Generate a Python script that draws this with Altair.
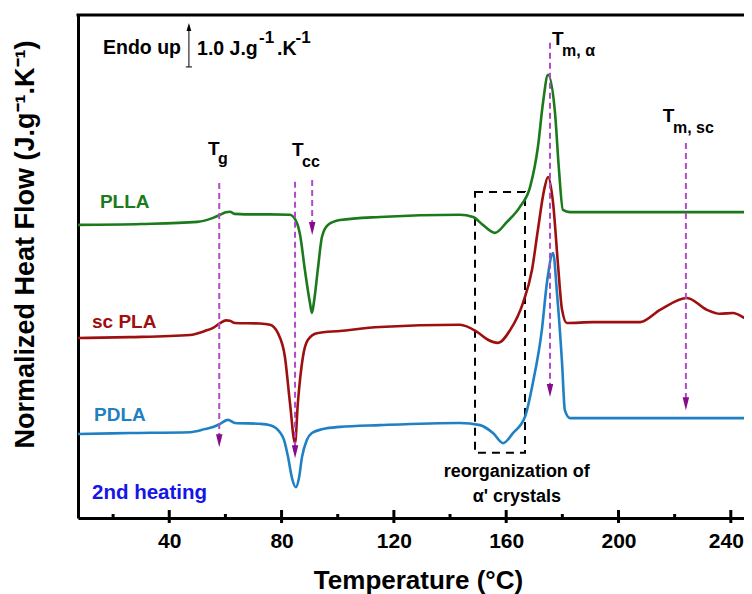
import altair as alt
import pandas as pd

FONT = "Liberation Sans"
W, H = 666, 503
X_DOMAIN = [7.5, 244.7]
Y_DOMAIN = [0, 11.43]

major_ticks = [40, 80, 120, 160, 200, 240]
minor_ticks = [20, 60, 100, 140, 180, 220]

series_names = ["PLLA", "sc PLA", "PDLA"]
series_colors = ["#1b7a1b", "#9e0f0f", "#1f80c4"]

plla_T = [7.5, 30, 50, 55.6, 58.1, 60.2, 61.6, 63.4, 67, 75.9, 83.0, 85.5, 86.6, 88.3, 90.1, 90.8, 91.5, 92.9, 94.4, 96.5,
          100.8, 115, 143.5, 148.2, 151.7, 156.0, 160.3, 164.9, 168.5, 171.3, 173.1, 174.9, 177.4, 178.8, 180.2, 182.7, 247.5]
plla_HF = [6.66, 6.68, 6.73, 6.82, 6.89, 6.95, 6.96, 6.91, 6.90, 6.90, 6.89, 6.70, 6.43, 5.64, 4.89, 4.66, 4.89, 5.64, 6.39, 6.66,
           6.77, 6.84, 6.89, 6.84, 6.66, 6.48, 6.73, 7.07, 7.52, 8.43, 9.43, 10.07, 9.20, 7.91, 7.00, 6.95, 6.95]

scpla_T = [7.5, 26, 47.4, 52.7, 55.6, 58.1, 60.2, 61.6, 63.4, 72.3, 75.9, 78.7, 81.2, 83.0, 84.8, 85.8, 87.6, 89.4, 92.6, 100.8,
           115, 143.5, 149.6, 153.5, 157.1, 161.4, 166.0, 169.2, 171.3, 173.5, 174.9, 176.7, 178.4, 179.9, 181.6, 190.9, 207.6,
           214.8, 224.4, 231.5, 236.1, 240.8, 245.7, 247.5]
scpla_HF = [4.09, 4.11, 4.16, 4.25, 4.32, 4.43, 4.49, 4.48, 4.43, 4.42, 4.39, 4.20, 3.66, 2.61, 1.70, 2.61, 3.66, 4.05, 4.20, 4.25,
            4.34, 4.39, 4.23, 4.05, 3.98, 4.27, 4.89, 5.64, 6.55, 7.45, 7.75, 7.16, 5.80, 4.73, 4.43, 4.45, 4.45,
            4.73, 5.00, 4.73, 4.64, 4.66, 4.52, 4.48]

pdla_T = [7.5, 26, 47.4, 52.7, 55.6, 58.1, 60.9, 63.4, 72.3, 75.9, 79.4, 80.9, 82.3, 83.7, 85.1, 86.2, 87.3, 89.0, 90.8, 94.7,
          100.8, 115, 143.5, 150.7, 155.3, 158.9, 162.4, 166.7, 169.5, 172.7, 174.5, 176.7, 178.1, 179.9, 180.9, 182.7, 247.5]
pdla_HF = [1.91, 1.93, 1.95, 2.02, 2.07, 2.14, 2.23, 2.16, 2.14, 2.11, 1.95, 1.77, 1.39, 0.91, 0.70, 0.91, 1.39, 1.77, 1.93, 2.02,
           2.07, 2.11, 2.16, 2.11, 1.93, 1.70, 1.93, 2.30, 3.07, 4.27, 5.34, 6.02, 5.11, 3.52, 2.45, 2.27, 2.27]

# transition markers (dashed arrows): temperature, top of line, arrow tip
marker_T = [57.8, 84.8, 90.9, 175.6, 224.0]
marker_top = [7.61, 7.64, 7.68, 10.80, 8.52]
marker_tip = [1.61, 1.36, 6.43, 2.75, 2.45]

# reorganization box
box_T = [148.9, 166.7]
box_HF = [1.48, 7.41]

# text labels
label_text = ["PLLA", "sc PLA", "PDLA"]
label_T = [15.3, 12.5, 13.2]
label_HF = [7.18, 4.45, 2.34]
label_color = ["#1b7a1b", "#9e0f0f", "#1f80c4"]

heating_text = ["2nd heating"]
heating_T = [12.5]
heating_HF = [0.57]

sym_T = [53.8, 83.7, 176.3, 215.8]
sym_HF = [8.25, 8.23, 10.75, 9.0]
sub_text = ["g", "cc", "m, α", "m, sc"]
sub_T = [57.4, 87.3, 179.9, 219.4]
sub_HF = [8.05, 7.98, 10.50, 8.75]

reorg_text = ["reorganization of", "α' crystals"]
reorg_T = [163.8, 163.8]
reorg_HF = [1.05, 0.48]

# Endo-up scale bar (1.0 J/g/K)
endo_text = ["Endo up", "1.0 J.g", ".K"]
endo_T = [16.4, 49.9, 78.4]
endo_HF = [10.55, 10.52, 10.52]
sup_T = [72.0, 85.0]
sup_HF = [10.80, 10.80]
scale_T = 47.0
scale_HF = [10.25, 11.25]


# ---------------------------------------------------------------
def X(field="T"):
    return alt.X(f"{field}:Q",
                 scale=alt.Scale(domain=X_DOMAIN, nice=False, zero=False),
                 axis=alt.Axis(values=major_ticks, format="d", title="Temperature (°C)",
                               labelFont=FONT, labelFontSize=21, labelFontWeight="bold", labelColor="black",
                               labelOffset={"condition": {"test": "datum.value >= 240", "value": -5}, "value": 0},
                               ticks=False, tickSize=0, labelPadding=12, grid=False,
                               domainColor="black", domainWidth=3,
                               titleFont=FONT, titleFontSize=26, titleFontWeight="bold", titleColor="black",
                               titleBaseline="alphabetic", titleY=70, titleX=340))


def Y(field="HF"):
    return alt.Y(f"{field}:Q",
                 scale=alt.Scale(domain=Y_DOMAIN, nice=False, zero=False),
                 axis=alt.Axis(labels=False, ticks=False, tickSize=0, grid=False,
                               domainColor="black", domainWidth=3,
                               title="Normalized Heat Flow (J.g⁻¹.K⁻¹)",
                               titleFont=FONT, titleFontSize=27, titleFontWeight="bold", titleColor="black",
                               titleAngle=270, titleAlign="center", titleBaseline="middle",
                               titleX=-53, titleY=229))


rows = []
for name, ts, hs in zip(series_names, [plla_T, scpla_T, pdla_T], [plla_HF, scpla_HF, pdla_HF]):
    for t, h in zip(ts, hs):
        rows.append({"series": name, "T": t, "HF": h})
curves_df = pd.DataFrame(rows)

curves = alt.Chart(curves_df).mark_line(strokeWidth=2.6, interpolate="monotone", clip=True).encode(
    x=X(), y=Y(),
    color=alt.Color("series:N", scale=alt.Scale(domain=series_names, range=series_colors), legend=None),
    detail="series:N",
)

markers_df = pd.DataFrame({"T": marker_T, "top": marker_top, "tip": marker_tip})
markers_df["end"] = markers_df["tip"] + 0.1

dash_lines = alt.Chart(markers_df).mark_rule(color="#b24ac8", strokeWidth=2, strokeDash=[6, 4]).encode(
    x=X(), y=Y("top"), y2=alt.Y2("end"))
arrow_heads = alt.Chart(markers_df).mark_point(
    shape="M-0.5,-2L0.5,-2L0,0Z", filled=True, size=169, color="#860a8c", opacity=1, strokeWidth=0
).encode(x=X(), y=Y("tip"))

box_df = pd.DataFrame({"T": [box_T[0]], "T2": [box_T[1]], "HF": [box_HF[0]], "HF2": [box_HF[1]]})
box = alt.Chart(box_df).mark_rect(fill=None, fillOpacity=0, stroke="black", strokeWidth=2, strokeDash=[8, 6]).encode(
    x=X(), x2=alt.X2("T2"), y=Y(), y2=alt.Y2("HF2"))

# axis tick marks drawn across the axis line
major_df = pd.DataFrame({"T": major_ticks})
minor_df = pd.DataFrame({"T": minor_ticks})
major_rules = alt.Chart(major_df).mark_rule(color="black", strokeWidth=3).encode(
    x=X(), y=alt.value(H - 8), y2=alt.value(H + 5))
minor_rules = alt.Chart(minor_df).mark_rule(color="black", strokeWidth=3).encode(
    x=X(), y=alt.value(H - 4), y2=alt.value(H))

top_border = alt.Chart(pd.DataFrame({"a": [0]})).mark_rule(color="black", strokeWidth=3).encode(
    x=alt.value(-1.5), x2=alt.value(W), y=alt.value(0))


def text_layer(df, size, align="left", baseline="alphabetic", color="black", color_field=None):
    mark = alt.Chart(df).mark_text(font=FONT, fontSize=size, fontWeight="bold", align=align, baseline=baseline,
                                   color=color)
    enc = dict(x=X(), y=Y(), text="text:N")
    if color_field:
        enc["color"] = alt.Color(f"{color_field}:N", scale=None, legend=None)
    return mark.encode(**enc)


labels = text_layer(pd.DataFrame({"T": label_T, "HF": label_HF, "text": label_text, "c": label_color}),
                    19, baseline="middle", color_field="c")
heating = text_layer(pd.DataFrame({"T": heating_T, "HF": heating_HF, "text": heating_text}),
                     20.5, baseline="middle", color="#1515e8")
syms = text_layer(pd.DataFrame({"T": sym_T, "HF": sym_HF, "text": ["T"] * 4}), 19)
subs = text_layer(pd.DataFrame({"T": sub_T, "HF": sub_HF, "text": sub_text}), 16)
reorg = text_layer(pd.DataFrame({"T": reorg_T, "HF": reorg_HF, "text": reorg_text}), 18, align="center",
                   baseline="middle")

endo_main = text_layer(pd.DataFrame({"T": endo_T, "HF": endo_HF, "text": endo_text}), 19.5)
endo_sup = text_layer(pd.DataFrame({"T": sup_T, "HF": sup_HF, "text": ["-1", "-1"]}), 17)

scale_df = pd.DataFrame({"T": [scale_T], "HF": [scale_HF[0]], "HF2": [scale_HF[1] - 0.1], "tipHF": [scale_HF[1]]})
scale_line = alt.Chart(scale_df).mark_rule(color="black", strokeWidth=1).encode(x=X(), y=Y(), y2=alt.Y2("HF2"))
scale_foot = alt.Chart(pd.DataFrame({"T": [scale_T - 1.1], "T2": [scale_T + 1.1], "HF": [scale_HF[0]]})).mark_rule(
    color="black", strokeWidth=1).encode(x=X(), x2=alt.X2("T2"), y=Y())
scale_head = alt.Chart(scale_df).mark_point(shape="M-0.6,2L0.6,2L0,0Z", filled=True, size=64, color="black",
                                            opacity=1, strokeWidth=0).encode(x=X(), y=Y("tipHF"))

chart = alt.layer(
    box, curves, dash_lines, arrow_heads, major_rules, minor_rules, top_border,
    labels, heating, syms, subs, reorg, endo_main, endo_sup, scale_line, scale_foot, scale_head,
).properties(
    width=W, height=H,
    autosize=alt.AutoSizeParams(type="none"),
    padding={"left": 70, "top": 7, "right": 0, "bottom": 76},
).configure_view(stroke=None)

chart.save("out.html", embed_options={"renderer": "svg", "actions": False})
